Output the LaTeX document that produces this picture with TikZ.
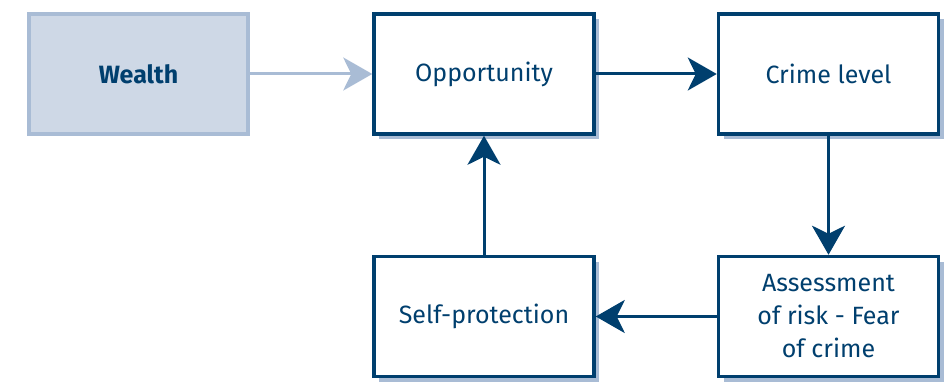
\documentclass[tikz,border=0pt]{standalone}
\usepackage{fontspec}
\setmainfont{Fira Sans}
\usetikzlibrary{positioning,arrows.meta,shadows}
\definecolor{darkblue}{HTML}{003F6E}
\definecolor{paleblue}{HTML}{A9BCD5}
\definecolor{fillblue}{HTML}{CED8E6}
\tikzset{
	font=\fontsize{25}{33}\selectfont,
	box/.style={draw=darkblue, line width=3.5pt, fill=white, text=darkblue, align=center,
		minimum width=220pt, minimum height=120pt, inner sep=2pt,
		copy shadow={shadow xshift=5pt, shadow yshift=-5pt, draw=none, fill=paleblue}},
	srcbox/.style={draw=paleblue, line width=3.5pt, fill=fillblue, text=darkblue,
		minimum width=219pt, minimum height=120pt, font=\fontsize{25}{33}\selectfont\bfseries},
	flow/.style={darkblue, line width=3pt, -{Stealth[length=29pt, width=33pt, inset=8pt]}}
}

\begin{document}
\begin{tikzpicture}[x=1pt, y=-1pt]
	\useasboundingbox (0,0) rectangle (947,382);
	\node[srcbox] (wealth) at (138.5, 74) {Wealth};
	\node[box] (opport) at (484, 74) {Opportunity};
	\node[box] (crime) at (828.5, 74) {Crime level};
	\node[box] (assess) at (828.5, 316.5) {Assessment\\of risk - Fear\\of crime};
	\node[box] (protect) at (484, 316.5) {Self-protection};

	\draw[flow, paleblue] (wealth) -- (opport);
	\draw[flow] (opport) -- (crime);
	\draw[flow] (crime) -- (assess);
	\draw[flow] (assess) -- (protect);
	\draw[flow] (protect) -- (opport);
\end{tikzpicture}
\end{document}
